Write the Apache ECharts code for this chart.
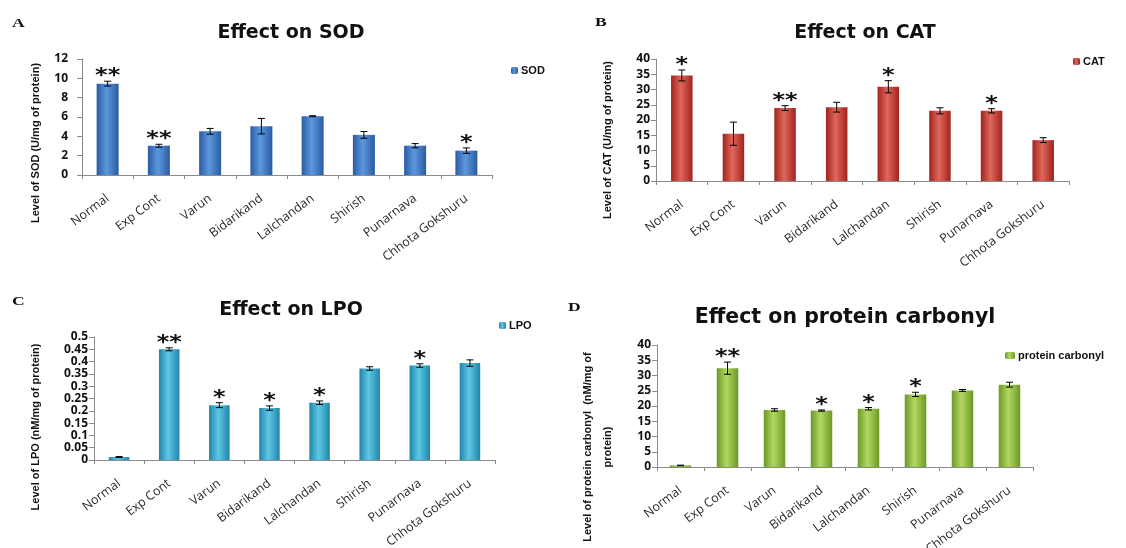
<!DOCTYPE html>
<html><head><meta charset="utf-8">
<script src="https://cdn.jsdelivr.net/npm/echarts@6/dist/echarts.min.js"></script>
<style>html,body{margin:0;padding:0;background:#fff}#c{width:1126px;height:548px}</style>
</head><body><div id="c"></div>
<script>
const categories = ['Normal','Exp Cont','Varun','Bidarikand','Lalchandan','Shirish','Punarnava','Chhota Gokshuru'];
const sodValues = [9.45, 3.03, 4.52, 5.05, 6.08, 4.15, 3.03, 2.52];
const sodErrors = [0.25, 0.15, 0.3, 0.8, 0.05, 0.35, 0.22, 0.28];
const sodStars = ['**','**','','','','','','*'];
const catValues = [34.6, 15.5, 23.9, 24.2, 30.9, 23.0, 23.0, 13.4];
const catErrors = [1.8, 3.8, 0.8, 1.6, 2.0, 1.0, 0.7, 0.8];
const catStars = ['*','','**','','*','','*',''];
const lpoValues = [0.012, 0.45, 0.223, 0.211, 0.233, 0.372, 0.384, 0.394];
const lpoErrors = [0.002, 0.006, 0.01, 0.009, 0.007, 0.007, 0.007, 0.013];
const lpoStars = ['','**','*','*','*','','*',''];
const pcValues = [0.5, 32.4, 18.7, 18.5, 19.1, 23.8, 25.1, 27.0];
const pcErrors = [0.1, 2.0, 0.4, 0.2, 0.4, 0.7, 0.3, 0.8];
const pcStars = ['','**','','*','*','*','',''];

const panels = [
  {name:'SOD', title:'Effect on SOD', letter:'A', values:sodValues, errors:sodErrors, stars:sodStars,
   yMax:12, yInt:2, grid:{left:82, top:59, width:410, height:116}, barWidth:22, labelMargin:14,
   colors:['#2a5ba3','#5c98de','#2a5ba3'], legend:{left:511, top:65, iw:7},
   titleX:286, titleY:19, titleSize:19, letterPos:[12,17],
   yTitle:['Level of SOD (U/mg of protein)'], yTitlePos:[[36,143]]},
  {name:'CAT', title:'Effect on CAT', letter:'B', values:catValues, errors:catErrors, stars:catStars,
   yMax:40, yInt:5, grid:{left:656, top:59, width:413, height:122}, barWidth:21.5, labelMargin:6,
   colors:['#a0231d','#e0675c','#a0231d'], legend:{left:1073, top:56, iw:7},
   titleX:860, titleY:19, titleSize:19, letterPos:[595,16],
   yTitle:['Level of CAT (U/mg of protein)'], yTitlePos:[[608,140]]},
  {name:'LPO', title:'Effect on LPO', letter:'C', values:lpoValues, errors:lpoErrors, stars:lpoStars,
   yMax:0.5, yInt:0.05, grid:{left:94, top:337, width:401, height:123}, barWidth:20.5, labelMargin:6,
   colors:['#1e85a8','#5fc8e6','#1e85a8'], legend:{left:499, top:320, iw:7},
   titleX:286, titleY:296, titleSize:19, letterPos:[12,295],
   yTitle:['Level of LPO (nM/mg of protein)'], yTitlePos:[[36,427]]},
  {name:'protein carbonyl', title:'Effect on protein carbonyl', letter:'D', values:pcValues, errors:pcErrors, stars:pcStars,
   yMax:40, yInt:5, grid:{left:657, top:345, width:376, height:122}, barWidth:21.5, labelMargin:6,
   colors:['#6c9826','#b2d862','#6c9826'], legend:{left:1005, top:350, iw:10},
   titleX:840, titleY:302, titleSize:20.5, letterPos:[568,301],
   yTitle:['Level of protein carbonyl  (nM/mg of','protein)'], yTitlePos:[[588,447],[608,447]]}
];

const grids=[], xAxes=[], yAxes=[], series=[], titles=[], legends=[], graphics=[];
panels.forEach((p,i)=>{
  grids.push(Object.assign({containLabel:false, outerBoundsMode:'none'}, p.grid));
  xAxes.push({type:'category', gridIndex:i, data:categories,
    axisLine:{lineStyle:{color:'#8a8a8a'}},
    axisTick:{show:true, length:4, lineStyle:{color:'#8a8a8a'}},
    axisLabel:{rotate:37, margin:22, interval:0, fontFamily:'Open Sans', fontSize:12.5, color:'#2a2a2a'}});
  yAxes.push({type:'value', gridIndex:i, min:0, max:p.yMax, interval:p.yInt,
    splitLine:{show:false},
    axisLine:{show:true, lineStyle:{color:'#8a8a8a'}},
    axisTick:{show:true, length:5, lineStyle:{color:'#8a8a8a'}},
    axisLabel:{margin:p.labelMargin, fontFamily:'Open Sans', fontWeight:'bold', fontSize:12, color:'#111',
      formatter:v=>String(+v.toFixed(2))}});
  const grad = {type:'linear', x:0, y:0, x2:1, y2:0,
    colorStops:[{offset:0,color:p.colors[0]},{offset:0.45,color:p.colors[1]},{offset:1,color:p.colors[2]}]};
  series.push({type:'bar', name:p.name, xAxisIndex:i, yAxisIndex:i, data:p.values,
    barWidth:p.barWidth, itemStyle:{color:grad}});
  const errData = p.values.map((v,k)=>[k, v, p.errors[k]]);
  series.push({type:'custom', name:p.name+' err', xAxisIndex:i, yAxisIndex:i, data:errData, z:5,
    renderItem:(params, api)=>{
      const x=api.value(0), v=api.value(1), e=api.value(2);
      const t=api.coord([x, v+e]), b=api.coord([x, v-e]);
      const hw=3.5, st={stroke:'#000', lineWidth:1};
      const ch=[
        {type:'line', shape:{x1:t[0],y1:t[1],x2:b[0],y2:b[1]}, style:st},
        {type:'line', shape:{x1:t[0]-hw,y1:t[1],x2:t[0]+hw,y2:t[1]}, style:st},
        {type:'line', shape:{x1:b[0]-hw,y1:b[1],x2:b[0]+hw,y2:b[1]}, style:st}];
      const s=p.stars[params.dataIndex];
      if(s){ ch.push({type:'text', x:t[0], y:t[1]-5, scaleX:1.2, style:{text:s, x:0, y:0, align:'center', verticalAlign:'middle',
        fontFamily:'DejaVu Sans', fontWeight:'bold', fontSize:20, fill:'#111'}}); }
      return {type:'group', children:ch};
    }});
  titles.push({text:p.title, left:p.titleX, top:p.titleY, textAlign:'center',
    textStyle:{fontFamily:'DejaVu Sans', fontWeight:'bold', fontSize:p.titleSize, color:'#111'}});
  legends.push({data:[p.name], left:p.legend.left, top:p.legend.top, padding:0, itemWidth:p.legend.iw, itemHeight:7, itemGap:4,
    orient:'vertical', selectedMode:false,
    textStyle:{fontFamily:'Liberation Sans', fontWeight:'bold', fontSize:11, color:'#111', padding:[0,0,0,-2]}});
  graphics.push({type:'text', x:p.letterPos[0], y:p.letterPos[1], scaleX:1.35,
    style:{text:p.letter, x:0, y:0, verticalAlign:'top', fontFamily:'Liberation Serif', fontWeight:'bold', fontSize:13, fill:'#111'}});
  p.yTitle.forEach((txt,j)=>{
    graphics.push({type:'text', x:p.yTitlePos[j][0], y:p.yTitlePos[j][1], rotation:Math.PI/2,
      style:{text:txt, align:'center', verticalAlign:'middle', fontFamily:'Liberation Sans', fontWeight:'bold', fontSize:11, fill:'#111'}});
  });
});

const chart = echarts.init(document.getElementById('c'));
chart.setOption({animation:false, backgroundColor:'#fff', title:titles, legend:legends,
  grid:grids, xAxis:xAxes, yAxis:yAxes, series:series, graphic:graphics});
</script></body></html>
